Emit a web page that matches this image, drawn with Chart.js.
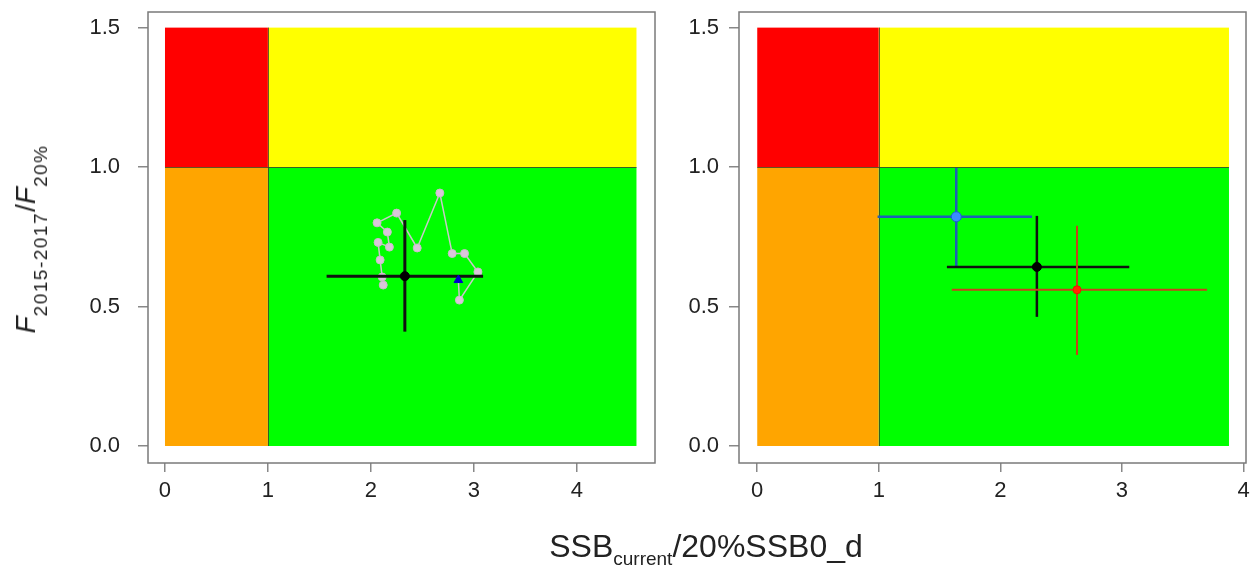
<!DOCTYPE html>
<html><head><meta charset="utf-8">
<script src="https://cdn.jsdelivr.net/npm/chart.js@4/dist/chart.umd.min.js"></script>
<style>
html,body{margin:0;padding:0;background:#fff;width:1252px;height:571px;overflow:hidden;font-family:"Liberation Sans",Arial,sans-serif;}
canvas{position:absolute;top:0;}
#c1{left:0;}
#c2{left:680px;}
.t{position:absolute;white-space:nowrap;color:#222;line-height:1;}
.t sub{line-height:1;}
</style></head><body>
<canvas id="c1" width="670" height="571"></canvas>
<canvas id="c2" width="572" height="571"></canvas>
<div class="t" id="yt" style="left:31px;top:239px;font-size:28px;transform:translate(-50%,-50%) rotate(-90deg);"><i>F</i><sub style="font-size:19px;vertical-align:-12px;letter-spacing:1.5px;">2015-2017</sub>/<i>F</i><sub style="font-size:19px;vertical-align:-12px;letter-spacing:1.5px;">20%</sub></div>
<div class="t" id="xt" style="left:706px;top:530px;font-size:32px;transform:translateX(-50%);">SSB<sub style="font-size:19px;vertical-align:-8px;">current</sub>/20%SSB0_d</div>
<script>
// ---- data ----
const xTicksL = [0, 1, 2, 3, 4];
const xTicksR = [0, 1, 2, 3, 4];
const yTicks = [0, 0.5, 1.0, 1.5];
const ssbLimit = 1;
const fLimit = 1;
const fTop = 1.5;
const zoneMaxL = 4.58;
const zoneMaxR = 3.88;

// left panel: historical trajectory (SSB ratio, F ratio)
const trajSSB = [2.12, 2.11, 2.09, 2.07, 2.18, 2.16, 2.06, 2.25, 2.45, 2.67, 2.79, 2.91, 3.04, 2.86, 2.85];
const trajF   = [0.577, 0.606, 0.667, 0.73, 0.713, 0.767, 0.80, 0.835, 0.71, 0.907, 0.69, 0.69, 0.624, 0.523, 0.595];
const lastL = [2.85, 0.595];
// current estimate with intervals: [ssb, f, ssbLo, ssbHi, fLo, fHi]
const curL = [2.33, 0.609, 1.57, 3.09, 0.41, 0.81];

// right panel: three estimates with intervals
const blueR  = [1.637, 0.822, 0.99, 2.26, 0.64, 0.997];
const blackR = [2.30, 0.642, 1.56, 3.06, 0.463, 0.825];
const redR   = [2.63, 0.56, 1.60, 3.70, 0.326, 0.79];

// ---- plugins ----
const zonesPlugin = {
  id: 'zones',
  beforeDatasetsDraw(chart, args, opts) {
    const {ctx, scales: {x, y}} = chart;
    const xm = opts.xmax;
    const rects = [
      [0, ssbLimit, fLimit, fTop, '#FF0000'],
      [ssbLimit, xm, fLimit, fTop, '#FFFF00'],
      [0, ssbLimit, 0, fLimit, '#FFA500'],
      [ssbLimit, xm, 0, fLimit, '#00FF00']
    ];
    ctx.save();
    for (const [x0, x1, y0, y1, c] of rects) {
      const px0 = x.getPixelForValue(x0), px1 = x.getPixelForValue(x1);
      const py0 = y.getPixelForValue(y0), py1 = y.getPixelForValue(y1);
      ctx.fillStyle = c;
      ctx.fillRect(px0, py1, px1 - px0, py0 - py1);
    }
    ctx.strokeStyle = 'rgba(60,60,40,0.8)';
    ctx.lineWidth = 1;
    ctx.beginPath();
    const vx = Math.round(x.getPixelForValue(ssbLimit)) + 0.5;
    ctx.moveTo(vx, y.getPixelForValue(0));
    ctx.lineTo(vx, y.getPixelForValue(fTop));
    const hy = Math.round(y.getPixelForValue(fLimit)) + 0.5;
    ctx.moveTo(x.getPixelForValue(0), hy);
    ctx.lineTo(x.getPixelForValue(xm), hy);
    ctx.stroke();
    ctx.restore();
  },
  afterDraw(chart) {
    const {ctx, chartArea: a} = chart;
    ctx.save();
    ctx.strokeStyle = '#7a7a7a';
    ctx.lineWidth = 1.5;
    ctx.strokeRect(a.left, a.top, a.right - a.left, a.bottom - a.top);
    ctx.restore();
  }
};

function seg(x0, y0, x1, y1, color, w, order) {
  return {data: [{x: x0, y: y0}, {x: x1, y: y1}], showLine: true, borderColor: color,
          borderWidth: w, pointRadius: 0, order: order, borderCapStyle: 'butt'};
}
function cross(e, color, w, order) {
  return [seg(e[2], e[1], e[3], e[1], color, w, order), seg(e[0], e[4], e[0], e[5], color, w, order)];
}
function pt(x, y, bg, border, r, style, order) {
  return {data: [{x, y}], pointRadius: r, pointBackgroundColor: bg, pointBorderColor: border,
          pointBorderWidth: 1, pointStyle: style, showLine: false, order: order};
}
function noPad(s) { s.paddingTop = 0; s.paddingBottom = 0; s.paddingLeft = 0; s.paddingRight = 0; }

function makeOptions(xmin, xmax, xTicks, zoneMax, yAxisWidth, padRight, yPad) {
  const tickFont = {family: '"Liberation Sans", Arial, sans-serif', size: 22};
  return {
    responsive: false, animation: false, events: [],
    layout: {padding: {left: 0, top: 12, right: padRight, bottom: 0}},
    plugins: {legend: {display: false}, tooltip: {enabled: false}, zones: {xmax: zoneMax}},
    scales: {
      x: {type: 'linear', min: xmin, max: xmax,
          afterBuildTicks: s => { s.ticks = xTicks.map(v => ({value: v})); },
          afterFit: s => { s.height = 108; noPad(s); },
          grid: {drawOnChartArea: false, drawTicks: true, tickLength: 9, tickColor: '#888', lineWidth: 1.5},
          border: {display: false},
          ticks: {font: tickFont, color: '#222', padding: 6, maxRotation: 0, autoSkip: false,
                  callback: v => String(v)}},
      y: {type: 'linear', min: -0.061, max: 1.556,
          afterBuildTicks: s => { s.ticks = yTicks.map(v => ({value: v})); },
          afterFit: s => { s.width = yAxisWidth; noPad(s); },
          grid: {drawOnChartArea: false, drawTicks: true, tickLength: 10, tickColor: '#888', lineWidth: 1.5},
          border: {display: false},
          ticks: {font: tickFont, color: '#222', padding: yPad, autoSkip: false,
                  callback: v => Number(v).toFixed(1)}}
    }
  };
}

// left chart
const trajData = trajSSB.map((v, i) => ({x: v, y: trajF[i]}));
new Chart(document.getElementById('c1'), {
  type: 'scatter',
  data: {datasets: [
    pt(curL[0], curL[1], '#000', '#000', 4.5, 'circle', 0),
    pt(lastL[0], lastL[1], '#0000cc', '#0000cc', 5, 'triangle', 1),
    ...cross(curL, '#111', 3, 2),
    {data: trajData, showLine: true, borderColor: '#c9c9c9', borderWidth: 1.5,
     pointRadius: trajData.map((d, i) => i === trajData.length - 1 ? 0 : 4),
     pointBackgroundColor: '#d9c6d9', pointBorderColor: '#c8bec8', pointBorderWidth: 1, order: 3}
  ]},
  options: makeOptions(-0.165, 4.76, xTicksL, zoneMaxL, 148, 15, 18),
  plugins: [zonesPlugin]
});

// right chart
new Chart(document.getElementById('c2'), {
  type: 'scatter',
  data: {datasets: [
    pt(redR[0], redR[1], '#ff2a00', '#e02000', 4, 'circle', 0),
    ...cross(redR, '#c8401c', 2, 1),
    pt(blackR[0], blackR[1], '#000', '#000', 4.5, 'circle', 2),
    ...cross(blackR, '#111', 2.5, 3),
    pt(blueR[0], blueR[1], '#3a8cff', '#1a5fcf', 5, 'circle', 4),
    ...cross(blueR, '#1e5db8', 2.5, 5)
  ]},
  options: makeOptions(-0.15, 4.02, xTicksR, zoneMaxR, 59, 5, 10),
  plugins: [zonesPlugin]
});
</script>
</body></html>
